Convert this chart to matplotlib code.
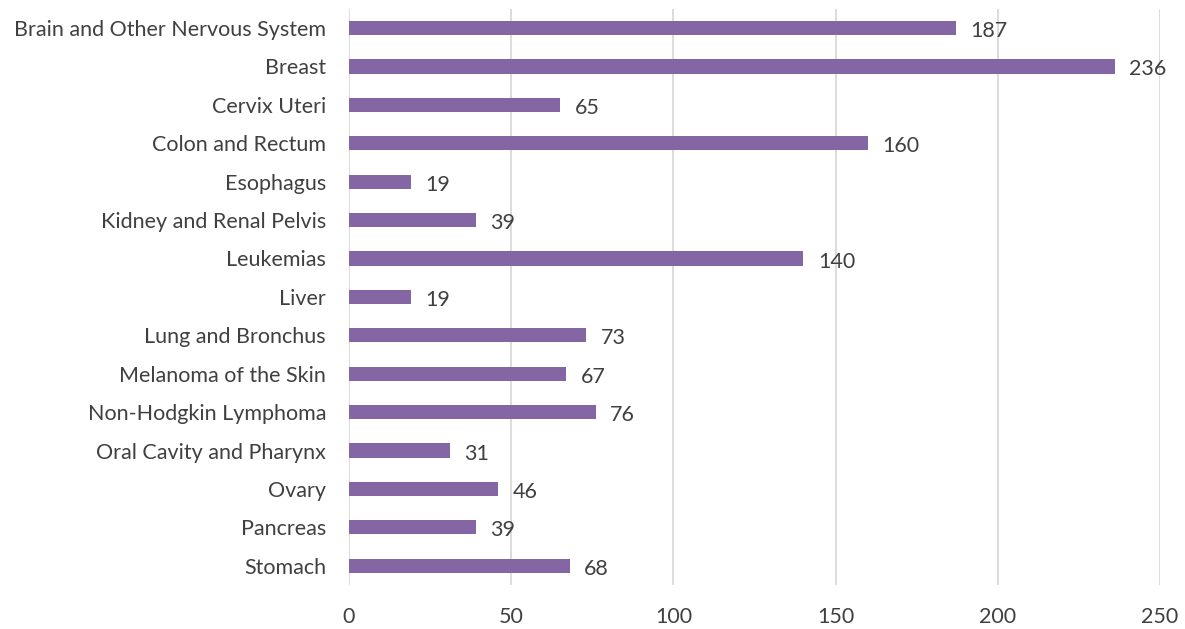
import matplotlib
matplotlib.use('Agg')
import matplotlib.pyplot as plt

# Cancer sites and counts
sites = ['Brain and Other Nervous System', 'Breast', 'Cervix Uteri', 'Colon and Rectum',
         'Esophagus', 'Kidney and Renal Pelvis', 'Leukemias', 'Liver', 'Lung and Bronchus',
         'Melanoma of the Skin', 'Non-Hodgkin Lymphoma', 'Oral Cavity and Pharynx',
         'Ovary', 'Pancreas', 'Stomach']
counts = [187, 236, 65, 160, 19, 39, 140, 19, 73, 67, 76, 31, 46, 39, 68]
xticks = [0, 50, 100, 150, 200, 250]

plt.rcParams['font.family'] = ['Lato', 'DejaVu Sans']
text_color = '#404040'
fs = 15.5

fig = plt.figure(figsize=(11.85, 6.29), dpi=100)
ax = fig.add_axes([0.2945, 0.070, 0.6845, 0.916])

pos = list(range(len(sites)))
ax.barh(pos, counts, height=0.37, color='#8566A5', zorder=3)
for y, v in zip(pos, counts):
    ax.text(v + 4.5, y + 0.08, str(v), va='center', ha='left', fontsize=fs, color=text_color)

ax.set_yticks(pos)
ax.set_yticklabels(sites, fontsize=fs, color=text_color)
ax.set_ylim(len(sites) - 0.5, -0.5)
ax.set_xlim(0, 250)
ax.set_xticks(xticks)
ax.set_xticklabels([str(t) for t in xticks], fontsize=fs, color=text_color)
ax.grid(axis='x', color='#D9D9D9', linewidth=1.3, zorder=0)
ax.tick_params(length=0)
ax.tick_params(axis='x', pad=16)
ax.tick_params(axis='y', pad=16.5)
for s in ax.spines.values():
    s.set_visible(False)

fig.savefig('out.png', dpi=100)
